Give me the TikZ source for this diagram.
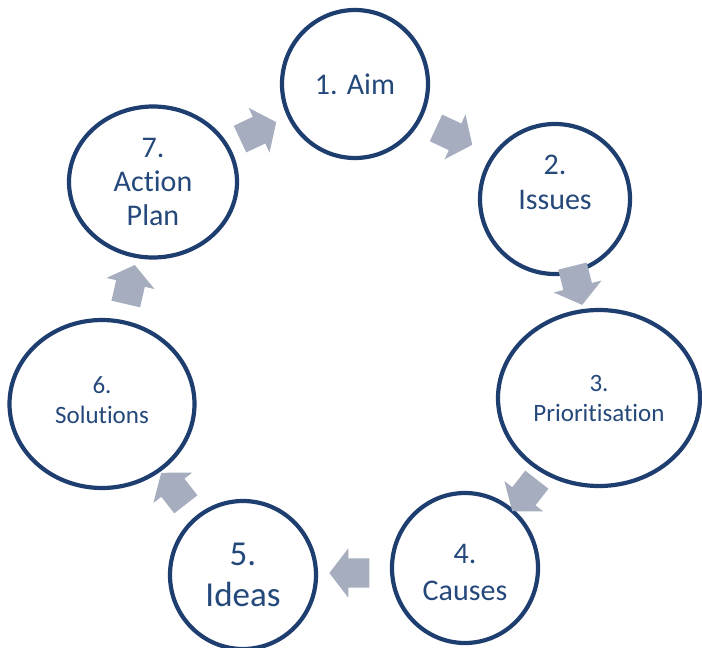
\documentclass[tikz,border=0pt]{standalone}
\usepackage{fontspec}
\setmainfont{Carlito}[Ligatures=NoCommon]
\usetikzlibrary{shapes.geometric,shapes.arrows}
\definecolor{stageNavy}{RGB}{30,62,112}
\definecolor{stageText}{RGB}{36,72,122}
\definecolor{flowGray}{RGB}{166,173,190}
\tikzset{
  stage/.style={ellipse, draw=stageNavy, line width=4.2pt, inner sep=0pt, text=stageText, align=center},
  stagetext/.style={text=stageText, align=center, inner sep=0pt},
  flow/.style={single arrow, fill=flowGray, draw=none, inner xsep=0pt, inner ysep=14.5pt,
    minimum height=40pt, single arrow head extend=10pt, single arrow tip angle=105},
}
\newcommand{\stagesize}[2]{\fontsize{#1}{#2}\selectfont}

\begin{document}
\begin{tikzpicture}[x=1pt,y=-1pt]
\useasboundingbox (0,0) rectangle (702,648);

% stages of the cycle
\node[stage, minimum width=146pt, minimum height=148pt, font=\stagesize{30}{34}] (aim) at (355,84) {1. Aim};
\node[stage, minimum width=150pt, minimum height=150pt] (issues) at (555,199) {};
\node[stagetext, font=\stagesize{30}{35}] (issueslabel) at ([yshift=17pt]issues.center) {2.\\Issues};
\node[stage, minimum width=202pt, minimum height=176pt, font=\stagesize{25}{30}] (prio) at (599,398) {3.\\Prioritisation};
\node[stage, minimum width=146pt, minimum height=150pt, font=\stagesize{30}{37}] (causes) at (465,568) {};
\node[stagetext, font=\stagesize{30}{37}] (causeslabel) at ([yshift=-4pt]causes.center) {4.\\Causes};
\node[stage, minimum width=146pt, minimum height=148pt, font=\stagesize{35}{41}] (ideas) at (243,575) {5.\\Ideas};
\node[stage, minimum width=185pt, minimum height=168pt] (solutions) at (102,404) {};
\node[stagetext, font=\stagesize{25}{30}] (solutionslabel) at ([yshift=4pt]solutions.center) {6.\\Solutions};
\node[stage, minimum width=168pt, minimum height=151pt, font=\stagesize{30}{34}] (plan) at (153,182) {7.\\Action\\Plan};

% arrows between stages
\node[flow, rotate=25] (planaim) at (253,133) {};
\node[flow, rotate=-25] (aimissues) at (449,134) {};
\node[flow, rotate=-76] (issuesprio) at (576,280) {};
\node[flow, rotate=-128] (priocauses) at (528,491) {};
\node[flow, rotate=180] (causesideas) at (355,573) {};
\node[flow, rotate=128] (ideassolutions) at (177,493) {};
\node[flow, rotate=77] (solutionsplan) at (129,290) {};
\end{tikzpicture}
\end{document}
